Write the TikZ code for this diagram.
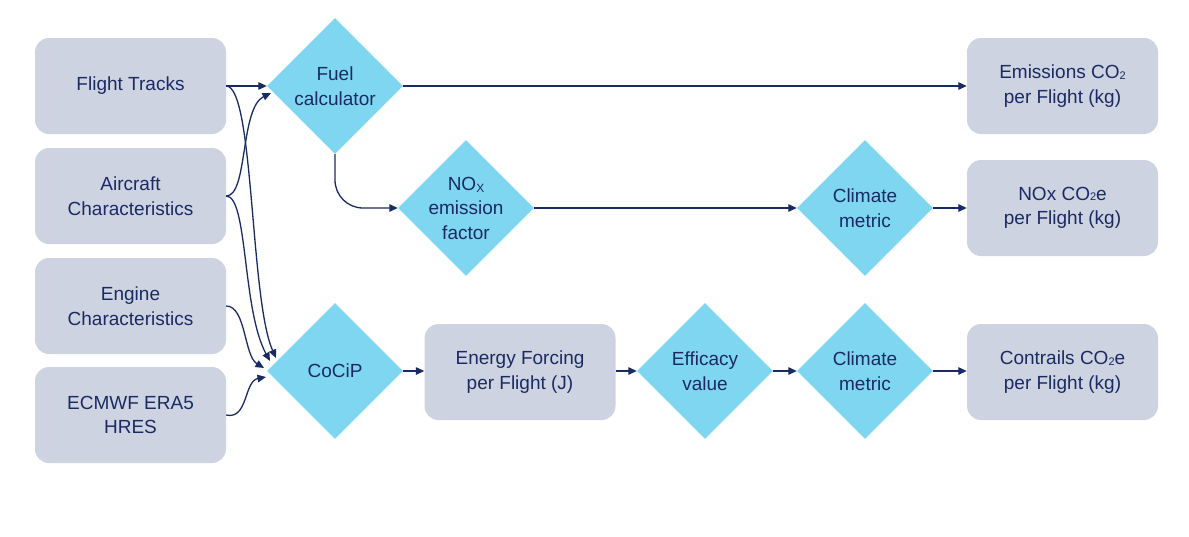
\documentclass[tikz,border=0pt]{standalone}
\usepackage{fontspec}
\setmainfont{Liberation Sans}
\usetikzlibrary{shapes.geometric,arrows.meta}
\definecolor{navy}{HTML}{1A2B63}
\definecolor{boxfill}{HTML}{CDD3E1}
\definecolor{diafill}{HTML}{7FD6F0}
\newcommand{\subtwo}{\raisebox{-0.5pt}{\fontsize{11}{11}\selectfont 2}}
\begin{document}
\begin{tikzpicture}[x=1pt,y=-1pt,
  every node/.style={font=\fontsize{19}{24.5}\selectfont, text=navy},
  rbox/.style={draw=none, fill=boxfill, rounded corners=14pt, minimum width=191pt, minimum height=96pt, align=center, inner sep=0pt},
  dia/.style={diamond, aspect=1, fill=diafill, draw=none, minimum width=136pt, minimum height=136pt, inner sep=0pt},
  lbl/.style={align=center, inner sep=0pt},
  arr/.style={draw=navy, line width=1.3pt, -{Triangle[length=8.5pt,width=7.5pt]}}
]
\useasboundingbox (0,0) rectangle (1189,536);
% left inputs
\node[rbox] (ft) at (130.5,86) {Flight Tracks};
\node[rbox] (ac) at (130.5,196) {Aircraft\\Characteristics};
\node[rbox] (ec) at (130.5,306) {Engine\\Characteristics};
\node[rbox] (ecm) at (130.5,415) {ECMWF ERA5\\HRES};
% diamonds
\node[dia] (fuel) at (335,86) {};
\node[lbl] at (fuel) {Fuel\\calculator};
\node[dia] (nox) at (466,208) {};
\node[lbl] at (nox) {NO\raisebox{-2pt}{\fontsize{12}{12}\selectfont X}\\emission\\factor};
\node[dia] (cm1) at (865,208) {};
\node[lbl] at (cm1) {Climate\\metric};
\node[dia] (cocip) at (335,371) {};
\node[lbl] at (cocip) {CoCiP};
\node[rbox] (ef) at (520,372) {Energy Forcing\\per Flight (J)};
\node[dia] (eff) at (705,371) {};
\node[lbl] at (eff) {Efficacy\\value};
\node[dia] (cm2) at (865,371) {};
\node[lbl] at (cm2) {Climate\\metric};
% outputs
\node[rbox] (o1) at (1062.5,86) {Emissions CO\subtwo\\per Flight (kg)};
\node[rbox] (o2) at (1062.5,208) {NOx CO\subtwo e\\per Flight (kg)};
\node[rbox] (o3) at (1062.5,372) {Contrails CO\subtwo e\\per Flight (kg)};
% arrow end points
\coordinate (fin2) at (271,93);
\coordinate (cin1) at (276,358);
\coordinate (cin2) at (270,361);
\coordinate (cin3) at (264,368);
\coordinate (cin4) at (266,377);
% connectors
\draw[arr] (ft.east) -- (fuel.west);
\draw[arr] (ft.east) .. controls (254,86) and (250,300) .. (cin1);
\draw[arr] (ac.east) .. controls (248,196) and (240,108) .. (fin2);
\draw[arr] (ac.east) .. controls (248,196) and (242,310) .. (cin2);
\draw[arr] (ec.east) .. controls (246,306) and (244,356) .. (cin3);
\draw[arr] (ecm.east) .. controls (248,420) and (244,381) .. (cin4);
\draw[arr] (fuel.east) -- (o1.west);
\draw[arr, rounded corners=28pt] (fuel.south) |- (nox.west);
\draw[arr] (nox.east) -- (cm1.west);
\draw[arr] (cm1.east) -- (o2.west);
\draw[arr] (cocip.east) -- (ef.west |- cocip.east);
\draw[arr] (ef.east |- eff.west) -- (eff.west);
\draw[arr] (eff.east) -- (cm2.west);
\draw[arr] (cm2.east) -- (o3.west |- cm2.east);
\end{tikzpicture}
\end{document}
